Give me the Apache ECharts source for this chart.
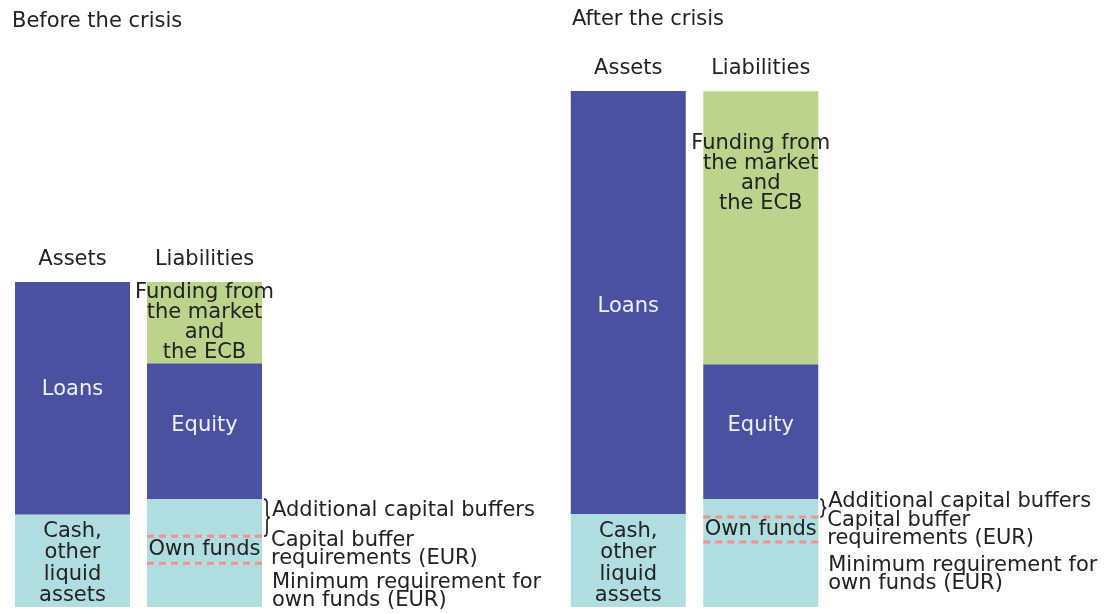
<!DOCTYPE html>
<html>
<head>
<meta charset="utf-8">
<script src="https://cdn.jsdelivr.net/npm/echarts@6/dist/echarts.min.js"></script>
<style>
  html, body { margin: 0; padding: 0; background: #fff; }
  #main { width: 1104px; height: 614px; }
</style>
</head>
<body>
<div id="main"></div>
<script>
// category names for each panel
var categories = ['Assets', 'Liabilities'];

// before the crisis (same units in both panels)
var beforeLower = [28.5, 13.5];   // cash / minimum own funds requirement
var beforeBuffer = [0, 8.3];      // capital buffer requirement
var beforeExtra = [0, 11.4];      // additional capital buffers
var beforeMiddle = [71.5, 41.8];  // loans / equity
var beforeTop = [0, 25.0];        // funding from the market and the ECB

// after the crisis
var afterLower = [28.6, 20.0];
var afterBuffer = [0, 7.7];
var afterExtra = [0, 5.5];
var afterMiddle = [130.2, 41.5];
var afterTop = [0, 84.0];

var lowerLabels = ['Cash,\nother\nliquid\nassets', ''];
var bufferLabels = ['', 'Own funds'];
var middleLabels = ['Loans', 'Equity'];
var topLabels = ['', 'Funding from\nthe market\nand\nthe ECB'];

var noteExtra = 'Additional capital buffers';
var noteBuffer = 'Capital buffer\nrequirements (EUR)';
var noteMin = 'Minimum requirement for\nown funds (EUR)';

var LIGHT = '#b0dde0';
var DARK = '#4a51a0';
var GREEN = '#bcd38b';
var DASH = '#f2928f';
var TEXT = '#222222';
var BAR_W = 115;
var FONT = 'DejaVu Sans';
var FS = 21;

var chartDom = document.getElementById('main');
var myChart = echarts.init(chartDom);

function cumsum(a, b) {
  return a.map(function (v, i) { return v + b[i]; });
}

function items(values, labels, offsets) {
  return values.map(function (v, i) {
    var lab = labels[i];
    var item = { value: v };
    if (lab && v > 0) {
      item.label = { show: true, formatter: lab };
      if (offsets) item.label.offset = [0, offsets[i]];
    } else {
      item.label = { show: false };
    }
    return item;
  });
}

function barSeries(idx, name, values, color, labels, labelStyle, offsets) {
  return {
    type: 'bar',
    name: name,
    stack: 'p' + idx,
    xAxisIndex: idx,
    yAxisIndex: idx,
    barWidth: BAR_W,
    itemStyle: { color: color },
    label: Object.assign({
      position: 'inside',
      fontFamily: FONT,
      fontSize: FS,
      lineHeight: 20,
      color: TEXT
    }, labelStyle || {}),
    emphasis: { disabled: true },
    data: items(values, labels, offsets)
  };
}

function notesSeries(idx, lower, buffer, extra, minGap) {
  var minLine = lower[1];
  var bufLine = minLine + buffer[1];
  var topLine = bufLine + extra[1];
  return {
    type: 'custom',
    xAxisIndex: idx,
    yAxisIndex: idx,
    z: 10,
    silent: true,
    data: [[1, minLine, bufLine, topLine]],
    renderItem: function (params, api) {
      var cx = api.coord([api.value(0), 0])[0];
      var yMin = api.coord([api.value(0), api.value(1)])[1];
      var yBuf = api.coord([api.value(0), api.value(2)])[1];
      var yTop = api.coord([api.value(0), api.value(3)])[1];
      var xl = cx - BAR_W / 2;
      var xr = cx + BAR_W / 2 + 2;
      var dash = { stroke: DASH, lineWidth: 3, lineDash: [7, 5] };
      var w = 6, xb = xr, ym = (yTop + yBuf) / 2;
      var r = Math.min(4, (yBuf - yTop) / 4);
      var hx = xb + w / 2;
      var brace = 'M' + xb + ',' + yTop +
        ' Q' + hx + ',' + yTop + ' ' + hx + ',' + (yTop + r) +
        ' L' + hx + ',' + (ym - r) +
        ' Q' + hx + ',' + ym + ' ' + (xb + w) + ',' + ym +
        ' Q' + hx + ',' + ym + ' ' + hx + ',' + (ym + r) +
        ' L' + hx + ',' + (yBuf - r) +
        ' Q' + hx + ',' + yBuf + ' ' + xb + ',' + yBuf;
      var tx = xr + 8;
      var ts = { fill: TEXT, font: FS + 'px "' + FONT + '"', lineHeight: 18 };
      return {
        type: 'group',
        children: [
          { type: 'line', shape: { x1: xl, y1: yBuf, x2: xr, y2: yBuf }, style: dash },
          { type: 'line', shape: { x1: xl, y1: yMin, x2: xr, y2: yMin }, style: dash },
          { type: 'path', shape: { pathData: brace }, style: { stroke: TEXT, lineWidth: 1.7, fill: null } },
          { type: 'text', x: tx, y: ym - 7,
            style: Object.assign({ text: noteExtra, verticalAlign: 'middle' }, ts) },
          { type: 'text', x: tx - 1, y: yBuf - 5,
            style: Object.assign({ text: noteBuffer, verticalAlign: 'top' }, ts) },
          { type: 'text', x: tx, y: yMin + minGap,
            style: Object.assign({ text: noteMin, verticalAlign: 'top', lineHeight: 19 }, ts) }
        ]
      };
    }
  };
}

function panelSeries(idx, lower, buffer, extra, middle, top, topLabelOpt, midOffsets, minGap) {
  return [
    barSeries(idx, 'Lower', lower, LIGHT, lowerLabels, { lineHeight: 21.3, offset: [0, 3] }),
    barSeries(idx, 'Buffer', buffer, LIGHT, bufferLabels),
    barSeries(idx, 'Extra', extra, LIGHT, []),
    barSeries(idx, 'Middle', middle, DARK, middleLabels, { color: '#eef0fa' }, midOffsets),
    barSeries(idx, 'Top', top, GREEN, topLabels, topLabelOpt),
    notesSeries(idx, lower, buffer, extra, minGap)
  ];
}

var beforeTotal = cumsum(cumsum(cumsum(cumsum(beforeLower, beforeBuffer), beforeExtra), beforeMiddle), beforeTop);
var afterTotal = cumsum(cumsum(cumsum(cumsum(afterLower, afterBuffer), afterExtra), afterMiddle), afterTop);

function xAxis(idx) {
  return {
    type: 'category',
    gridIndex: idx,
    data: categories,
    position: 'top',
    axisLine: { show: false },
    axisTick: { show: false },
    axisLabel: { fontFamily: FONT, fontSize: FS, color: TEXT, margin: 12 }
  };
}

function yAxis(idx, max) {
  return {
    type: 'value',
    gridIndex: idx,
    min: 0,
    max: max,
    show: false
  };
}

var titleStyle = { fontFamily: FONT, fontSize: FS, fontWeight: 'normal', color: TEXT };

var option = {
  animation: false,
  textStyle: { fontFamily: FONT },
  title: [
    { text: 'Before the crisis', left: 7, top: 6, textStyle: titleStyle },
    { text: 'After the crisis', left: 567, top: 4, textStyle: titleStyle }
  ],
  grid: [
    { left: 6.5, width: 264, top: 282, bottom: 7 },
    { left: 562, width: 265, top: 91, bottom: 7 }
  ],
  xAxis: [xAxis(0), xAxis(1)],
  yAxis: [
    yAxis(0, Math.max.apply(null, beforeTotal)),
    yAxis(1, Math.max.apply(null, afterTotal))
  ],
  series: []
    .concat(panelSeries(0, beforeLower, beforeBuffer, beforeExtra, beforeMiddle, beforeTop,
      {}, [-9, -6], 10))
    .concat(panelSeries(1, afterLower, afterBuffer, afterExtra, afterMiddle, afterTop,
      { position: 'insideTop', distance: 42 }, [4, -6], 15))
};

if (chartDom && myChart) {
  myChart.setOption(option);
} else {
  console.error('Failed to initialize the chart');
}
</script>
</body>
</html>
